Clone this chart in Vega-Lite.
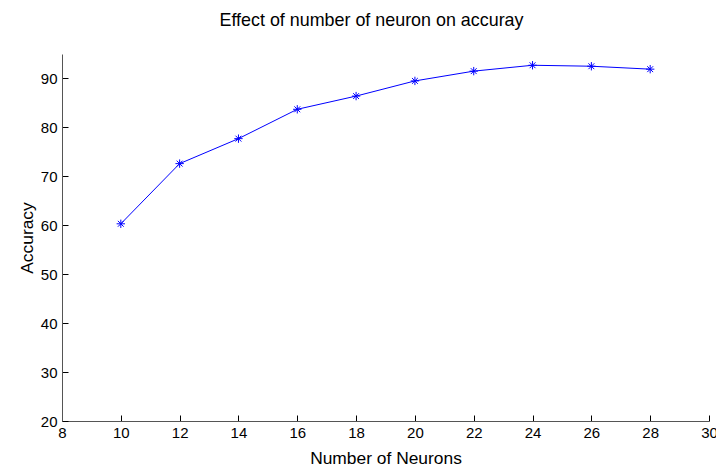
{
  "$schema": "https://vega.github.io/schema/vega-lite/v6.json",
  "width": 647,
  "height": 367,
  "autosize": {"type": "none"},
  "padding": {"left": 62, "top": 54, "right": 7, "bottom": 47},
  "background": "white",
  "config": {
    "view": {"stroke": null},
    "font": "Liberation Sans",
    "axis": {
      "grid": false,
      "domainColor": "#555555",
      "domainWidth": 1,
      "tickColor": "#000000",
      "tickSize": -6,
      "labelColor": "#000000",
      "titleColor": "#000000",
      "labelFontSize": 15,
      "titleFontSize": 17.4,
      "titleFontWeight": "normal",
      "labelFont": "Liberation Sans",
      "titleFont": "Liberation Sans"
    }
  },
  "title": {
    "text": "Effect of number of neuron on accuray",
    "fontSize": 17.9,
    "fontWeight": "normal",
    "font": "Liberation Sans",
    "color": "#000000",
    "anchor": "middle",
    "offset": 24,
    "dx": -14
  },
  "data": {
    "values": [
      {"neurons": 10, "accuracy": 60.3},
      {"neurons": 12, "accuracy": 72.6},
      {"neurons": 14, "accuracy": 77.7},
      {"neurons": 16, "accuracy": 83.7},
      {"neurons": 18, "accuracy": 86.4},
      {"neurons": 20, "accuracy": 89.5},
      {"neurons": 22, "accuracy": 91.5},
      {"neurons": 24, "accuracy": 92.7},
      {"neurons": 26, "accuracy": 92.5},
      {"neurons": 28, "accuracy": 91.9}
    ]
  },
  "encoding": {
    "x": {
      "field": "neurons",
      "type": "quantitative",
      "scale": {"domain": [8, 30], "nice": false, "zero": false},
      "axis": {
        "title": "Number of Neurons",
        "values": [8, 10, 12, 14, 16, 18, 20, 22, 24, 26, 28, 30],
        "labelPadding": 10,
        "titlePadding": 9,
        "labelFlush": false,
        "labelOverlap": false
      }
    },
    "y": {
      "field": "accuracy",
      "type": "quantitative",
      "scale": {"domain": [20, 95], "nice": false, "zero": false},
      "axis": {
        "title": "Accuracy",
        "values": [20, 30, 40, 50, 60, 70, 80, 90],
        "labelPadding": 11,
        "titlePadding": 4,
        "labelFlush": false,
        "labelOverlap": false
      }
    }
  },
  "layer": [
    {
      "mark": {"type": "line", "color": "#0000FF", "strokeWidth": 1}
    },
    {
      "mark": {
        "type": "point",
        "shape": "M0,-1L0,1M-1,0L1,0M-0.7,-0.7L0.7,0.7M-0.7,0.7L0.7,-0.7",
        "filled": false,
        "stroke": "#0000FF",
        "strokeWidth": 1,
        "opacity": 1,
        "size": 70
      }
    }
  ]
}
